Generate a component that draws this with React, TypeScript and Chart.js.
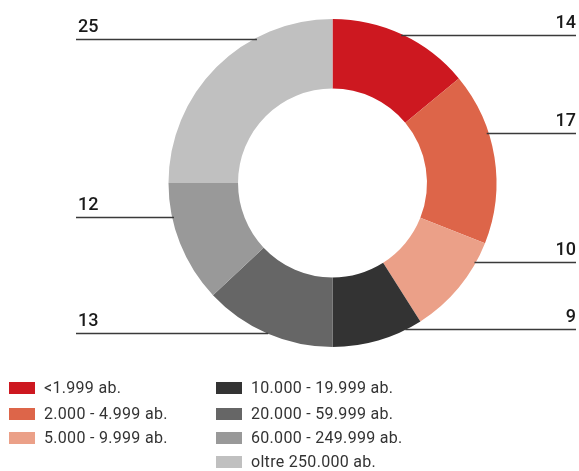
import React, { useEffect, useRef } from "react";
import { Chart, registerables } from "chart.js";

Chart.register(...registerables);

const categories = [
  "<1.999 ab.",
  "2.000 - 4.999 ab.",
  "5.000 - 9.999 ab.",
  "10.000 - 19.999 ab.",
  "20.000 - 59.999 ab.",
  "60.000 - 249.999 ab.",
  "oltre 250.000 ab.",
];
const values = [14, 17, 10, 9, 13, 12, 25];
const colors = ["#CD1820", "#DD6549", "#EBA088", "#333333", "#666666", "#999999", "#C0C0C0"];

// leader line vertical offsets from the doughnut centre (layout only)
const leaderDy = [-148, -50, 78.5, 146, 150, 33.5, -144.5];

const W = 579;
const H = 471;

const labelPlugin = {
  id: "leaderLabels",
  afterDraw(chart: any) {
    const ctx = chart.ctx as CanvasRenderingContext2D;
    const meta = chart.getDatasetMeta(0);
    ctx.save();
    meta.data.forEach((arc: any, i: number) => {
      const { x, y, outerRadius, startAngle, endAngle } = arc.getProps(
        ["x", "y", "outerRadius", "startAngle", "endAngle"],
        true
      );
      const mid = (startAngle + endAngle) / 2;
      const right = Math.cos(mid) >= 0;
      const dy = leaderDy[i];
      const ly = Math.round(y + dy) + 0.5;
      const dx = Math.sqrt(Math.max(outerRadius * outerRadius - dy * dy, 0));
      ctx.strokeStyle = "#3a3a3a";
      ctx.lineWidth = 1.5;
      ctx.beginPath();
      if (right) {
        ctx.moveTo(x + dx - 2, ly);
        ctx.lineTo(576, ly);
      } else {
        ctx.moveTo(76, ly);
        ctx.lineTo(x - dx + 2, ly);
      }
      ctx.stroke();
      ctx.fillStyle = "#1a1a1a";
      ctx.font = "500 18px Roboto";
      ctx.textBaseline = "alphabetic";
      if (right) {
        ctx.textAlign = "right";
        ctx.fillText(String(values[i]), 576, ly - 8);
      } else {
        ctx.textAlign = "left";
        ctx.fillText(String(values[i]), 78, ly - 8);
      }
    });

    // legend
    ctx.font = "400 16px Roboto";
    (ctx as any).letterSpacing = "0.3px";
    ctx.textAlign = "left";
    ctx.textBaseline = "middle";
    const rowsY = [388, 414, 438, 462];
    categories.forEach((c, i) => {
      const col = i < 3 ? 0 : 1;
      const row = i < 3 ? i : i - 3;
      const bx = col === 0 ? 9 : 216;
      const cy = rowsY[row];
      ctx.fillStyle = colors[i];
      ctx.fillRect(bx, cy - 6, 26, 12);
      ctx.fillStyle = "#333333";
      ctx.fillText(c, bx + 35, cy + 1);
    });
    ctx.restore();
  },
};

export default function App() {
  const ref = useRef<HTMLCanvasElement | null>(null);
  useEffect(() => {
    document.body.style.margin = "0";
    const chart = new Chart(ref.current!, {
      type: "doughnut",
      data: {
        labels: categories,
        datasets: [
          {
            data: values,
            backgroundColor: colors,
            borderWidth: 0,
            hoverOffset: 0,
          },
        ],
      },
      options: {
        responsive: false,
        animation: false,
        cutout: "57.6%",
        layout: { padding: { left: 168, right: 82, top: 19, bottom: 124 } },
        events: [],
        plugins: {
          legend: { display: false },
          tooltip: { enabled: false },
        },
      },
      plugins: [labelPlugin],
    });
    return () => chart.destroy();
  }, []);
  return (
    <div style={{ position: "absolute", left: 0, top: 0, width: W, height: H, background: "#fff" }}>
      <canvas ref={ref} width={W} height={H} style={{ width: W, height: H, display: "block" }} />
    </div>
  );
}
